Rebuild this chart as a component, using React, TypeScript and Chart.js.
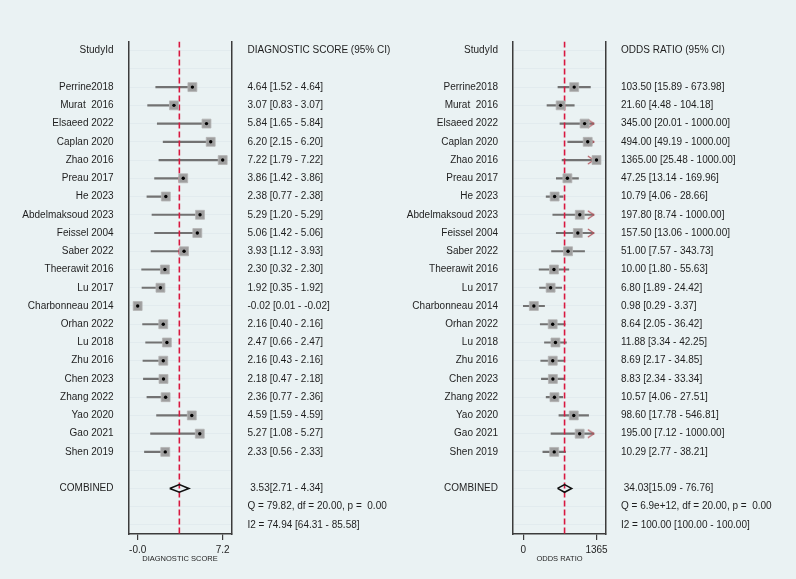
import { useEffect, useRef } from "react";
import { Chart, registerables } from "chart.js";

Chart.register(...registerables);

// Study identifiers, top to bottom
const studies = [
  "Perrine2018", "Murat  2016", "Elsaeed 2022", "Caplan 2020", "Zhao 2016", "Preau 2017",
  "He 2023", "Abdelmaksoud 2023", "Feissel 2004", "Saber 2022", "Theerawit 2016", "Lu 2017",
  "Charbonneau 2014", "Orhan 2022", "Lu 2018", "Zhu 2016", "Chen 2023", "Zhang 2022",
  "Yao 2020", "Gao 2021", "Shen 2019",
];

// Diagnostic score with its 95% CI
const scoreEst = [4.64, 3.07, 5.84, 6.2, 7.22, 3.86, 2.38, 5.29, 5.06, 3.93, 2.3, 1.92, -0.02, 2.16, 2.47, 2.16, 2.18, 2.36, 4.59, 5.27, 2.33];
const scoreLo = [1.52, 0.83, 1.65, 2.15, 1.79, 1.42, 0.77, 1.2, 1.42, 1.12, 0.32, 0.35, 0.01, 0.4, 0.66, 0.43, 0.47, 0.77, 1.59, 1.08, 0.56];
const scoreHi = [4.64, 3.07, 5.84, 6.2, 7.22, 3.86, 2.38, 5.29, 5.06, 3.93, 2.3, 1.92, -0.02, 2.16, 2.47, 2.16, 2.18, 2.36, 4.59, 5.27, 2.33];
const scoreCombined = [3.53, 2.71, 4.34];
const scoreStats = ["Q = 79.82, df = 20.00, p =  0.00", "I2 = 74.94 [64.31 - 85.58]"];
const scoreTicks = [-0.02, 7.22];
const scoreTickLabels = ["-0.0", "7.2"];
const scoreRange = [-0.8, 7.97];

// Odds ratio with its 95% CI (upper limits truncated at 1000)
const orEst = [103.5, 21.6, 345, 494, 1365, 47.25, 10.79, 197.8, 157.5, 51, 10, 6.8, 0.98, 8.64, 11.88, 8.69, 8.83, 10.57, 98.6, 195, 10.29];
const orLo = [15.89, 4.48, 20.01, 49.19, 25.48, 13.14, 4.06, 8.74, 13.06, 7.57, 1.8, 1.89, 0.29, 2.05, 3.34, 2.17, 2.34, 4.06, 17.78, 7.12, 2.77];
const orHi = [673.98, 104.18, 1000, 1000, 1000, 169.96, 28.66, 1000, 1000, 343.73, 55.63, 24.42, 3.37, 36.42, 42.25, 34.85, 33.34, 27.51, 546.81, 1000, 38.21];
const orCombined = [34.03, 15.09, 76.76];
const orStats = ["Q = 6.9e+12, df = 20.00, p =  0.00", "I2 = 100.00 [100.00 - 100.00]"];
const orTicks = [0.29, 1365];
const orTickLabels = ["0", "1365"];
const orRange = [0.088, 4086];
const orCap = 1000;

const FONT = "'Liberation Sans', Arial, Helvetica, sans-serif";
const TEXT = "#1e1e1e";
const AXIS = "#3c3c3c";

const fmt = (v: number) => v.toFixed(2);

// Row layout: header, blank, studies, blank, pooled estimate, Q, I2
const FIRST_STUDY_ROW = 2;
const COMBINED_ROW = FIRST_STUDY_ROW + studies.length + 1;
const ROWS = Array.from({ length: COMBINED_ROW + 3 }, (_, i) => i);

type PanelSpec = {
  header: string;
  est: number[];
  lo: number[];
  hi: number[];
  combined: number[];
  stats: string[];
  scaleType: "linear" | "logarithmic";
  range: number[];
  ticks: number[];
  tickLabels: string[];
  title: string;
  leftWidth: number;
  rightWidth: number;
  leftPad: number;
  rightPad: number;
  cap?: number;
};

function makeArrowStyle(): HTMLCanvasElement {
  const c = document.createElement("canvas");
  c.width = 16;
  c.height = 10;
  const g = c.getContext("2d")!;
  g.strokeStyle = "#b4545c";
  g.lineWidth = 1.1;
  g.beginPath();
  g.moveTo(2, 1);
  g.lineTo(8, 5);
  g.lineTo(2, 9);
  g.stroke();
  return c;
}

function buildChart(canvas: HTMLCanvasElement, spec: PanelSpec) {
  const studyRows = spec.est.map((_, i) => i + FIRST_STUDY_ROW);
  const leftLabels = ROWS.map(() => "");
  const rightLabels = ROWS.map(() => "");
  leftLabels[0] = "StudyId";
  rightLabels[0] = spec.header;
  studies.forEach((s, i) => {
    leftLabels[studyRows[i]] = s;
    rightLabels[studyRows[i]] = `${fmt(spec.est[i])} [${fmt(spec.lo[i])} - ${fmt(spec.hi[i])}]`;
  });
  const [cEst, cLo, cHi] = spec.combined;
  leftLabels[COMBINED_ROW] = "COMBINED";
  rightLabels[COMBINED_ROW] = ` ${fmt(cEst)}[${fmt(cLo)} - ${fmt(cHi)}]`;
  rightLabels[COMBINED_ROW + 1] = spec.stats[0];
  rightLabels[COMBINED_ROW + 2] = spec.stats[1];

  const cap = spec.cap;
  const ciBars = studyRows.map((r, i) => ({
    y: r,
    x: [spec.lo[i], cap !== undefined ? Math.min(spec.hi[i], cap) : spec.hi[i]],
  }));
  const points = studyRows.map((r, i) => ({ x: spec.est[i], y: r }));
  const h = 0.21;
  const diamond = [
    { x: cLo, y: COMBINED_ROW },
    { x: cEst, y: COMBINED_ROW - h },
    { x: cHi, y: COMBINED_ROW },
    { x: cEst, y: COMBINED_ROW + h },
    { x: cLo, y: COMBINED_ROW },
  ];
  const yMin = -0.5;
  const yMax = ROWS.length - 0.5;
  const refLine = [
    { x: cEst, y: yMin },
    { x: cEst, y: yMax },
  ];
  const arrows =
    cap !== undefined
      ? studyRows.filter((_, i) => spec.hi[i] >= cap).map((r) => ({ x: cap, y: r }))
      : [];

  const datasets: any[] = [
    {
      type: "scatter",
      data: points,
      pointStyle: "circle",
      pointRadius: 1.7,
      pointBackgroundColor: "#000",
      pointBorderWidth: 0,
      order: 0,
    },
    {
      type: "scatter",
      data: points,
      pointStyle: "rect",
      pointRadius: 6.3,
      pointBackgroundColor: "#9e9e9e",
      pointBorderColor: "#b4b4b4",
      pointBorderWidth: 0.8,
      order: 1,
    },
    {
      type: "scatter",
      data: diamond,
      showLine: true,
      borderColor: "#111",
      borderWidth: 1.6,
      pointRadius: 0,
      fill: false,
      order: 2,
    },
    {
      type: "scatter",
      data: arrows,
      pointStyle: arrows.length ? makeArrowStyle() : "circle",
      pointRadius: 5,
      order: 3,
    },
    {
      type: "scatter",
      data: refLine,
      showLine: true,
      borderColor: "#d9173f",
      borderWidth: 1.6,
      borderDash: [6, 3],
      pointRadius: 0,
      order: 4,
    },
    {
      type: "bar",
      indexAxis: "y",
      data: ciBars,
      barThickness: 1.5,
      backgroundColor: "#727272",
      borderWidth: 0,
      order: 5,
    },
  ];

  const font = { family: FONT, size: 10 };

  return new Chart(canvas, {
    type: "scatter",
    data: { datasets },
    options: {
      animation: false,
      responsive: false,
      devicePixelRatio: 1,
      events: [],
      layout: { padding: { top: 41.5, left: 0, right: 0, bottom: 0 } },
      plugins: { legend: { display: false }, tooltip: { enabled: false } },
      scales: {
        x: {
          type: spec.scaleType,
          position: "bottom",
          min: spec.range[0],
          max: spec.range[1],
          bounds: "data",
          offset: false,
          afterBuildTicks: (s: any) => {
            s.ticks = spec.ticks.map((v) => ({ value: v }));
          },
          afterFit: (s: any) => {
            s.height = 45;
          },
          ticks: {
            autoSkip: false,
            maxRotation: 0,
            padding: 4,
            color: TEXT,
            font,
            callback: (_v: any, i: number) => spec.tickLabels[i],
          },
          grid: { drawOnChartArea: false, drawTicks: true, tickLength: 6, color: AXIS, lineWidth: 1.2, offset: false },
          border: { display: true, color: AXIS, width: 1.5 },
          title: {
            display: true,
            text: spec.title,
            color: TEXT,
            font: { family: FONT, size: 7.5 },
            padding: { top: 0, bottom: 15.5 },
          },
        },
        y: {
          type: "linear",
          position: "left",
          min: yMin,
          max: yMax,
          reverse: true,
          bounds: "data",
          offset: false,
          afterBuildTicks: (s: any) => {
            s.ticks = ROWS.map((v) => ({ value: v }));
          },
          afterFit: (s: any) => {
            s.width = spec.leftWidth;
          },
          ticks: {
            autoSkip: false,
            padding: spec.leftPad,
            color: TEXT,
            font,
            callback: (_v: any, i: number) => leftLabels[i],
          },
          grid: { drawTicks: false, color: "#e2ebee", lineWidth: 1, offset: false },
          border: { display: true, color: AXIS, width: 1.5 },
        },
        y2: {
          type: "linear",
          position: "right",
          min: yMin,
          max: yMax,
          reverse: true,
          bounds: "data",
          offset: false,
          afterBuildTicks: (s: any) => {
            s.ticks = ROWS.map((v) => ({ value: v }));
          },
          afterFit: (s: any) => {
            s.width = spec.rightWidth;
          },
          ticks: {
            autoSkip: false,
            padding: spec.rightPad,
            color: TEXT,
            font,
            callback: (_v: any, i: number) => rightLabels[i],
          },
          grid: { drawOnChartArea: false, drawTicks: false },
          border: { display: true, color: AXIS, width: 1.5 },
        },
      },
    } as any,
  });
}

export default function App() {
  const leftRef = useRef<HTMLCanvasElement>(null);
  const rightRef = useRef<HTMLCanvasElement>(null);

  useEffect(() => {
    const left = buildChart(leftRef.current!, {
      header: "DIAGNOSTIC SCORE (95% CI)",
      est: scoreEst,
      lo: scoreLo,
      hi: scoreHi,
      combined: scoreCombined,
      stats: scoreStats,
      scaleType: "linear",
      range: scoreRange,
      ticks: scoreTicks,
      tickLabels: scoreTickLabels,
      title: "DIAGNOSTIC SCORE",
      leftWidth: 128.5,
      rightWidth: 166.5,
      leftPad: 15,
      rightPad: 16,
    });
    const right = buildChart(rightRef.current!, {
      header: "ODDS RATIO (95% CI)",
      est: orEst,
      lo: orLo,
      hi: orHi,
      combined: orCombined,
      stats: orStats,
      scaleType: "logarithmic",
      range: orRange,
      ticks: orTicks,
      tickLabels: orTickLabels,
      title: "ODDS RATIO",
      leftWidth: 115,
      rightWidth: 190,
      leftPad: 15,
      rightPad: 15,
      cap: orCap,
    });
    return () => {
      left.destroy();
      right.destroy();
    };
  }, []);

  return (
    <div
      style={{
        position: "absolute",
        left: 0,
        top: 0,
        width: 796,
        height: 579,
        background: "#eaf2f3",
        overflow: "hidden",
      }}
    >
      <canvas
        ref={leftRef}
        width={398}
        height={579}
        style={{ position: "absolute", left: 0, top: 0, width: 398, height: 579 }}
      />
      <canvas
        ref={rightRef}
        width={398}
        height={579}
        style={{ position: "absolute", left: 398, top: 0, width: 398, height: 579 }}
      />
    </div>
  );
}
